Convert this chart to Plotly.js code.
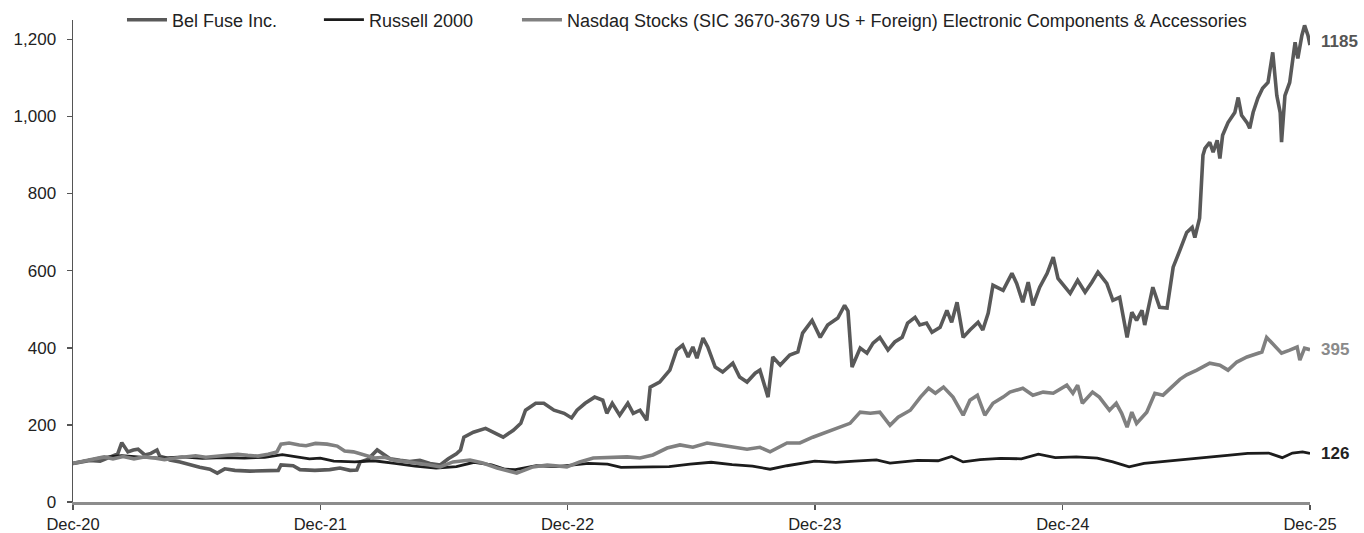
<!DOCTYPE html>
<html>
<head>
<meta charset="utf-8">
<script src="https://cdn.plot.ly/plotly-3.0.1.min.js"></script>
<style>html,body{margin:0;padding:0;background:#fff;}#chart{width:1364px;height:533px;}</style>
</head>
<body>
<div id="chart"></div>
<script>
const seriesNames = ["Bel Fuse Inc.", "Russell 2000", "Nasdaq Stocks (SIC 3670-3679 US + Foreign) Electronic Components & Accessories"];
const tickDates = ["2020-12-31","2021-12-31","2022-12-31","2023-12-31","2024-12-31","2025-12-31"];
const tickLabels = ["Dec-20","Dec-21","Dec-22","Dec-23","Dec-24","Dec-25"];
const yTicks = [0,200,400,600,800,1000,1200];

const belDates = ["2020-12-31","2021-01-10","2021-01-25","2021-02-09","2021-02-24","2021-03-07","2021-03-13","2021-03-22","2021-03-30","2021-04-06","2021-04-16","2021-04-25","2021-05-04","2021-05-08","2021-05-16","2021-05-23","2021-06-07","2021-06-22","2021-07-06","2021-07-21","2021-08-01","2021-08-12","2021-08-27","2021-09-18","2021-10-10","2021-10-30","2021-11-03","2021-11-21","2021-12-01","2021-12-23","2022-01-14","2022-01-29","2022-02-13","2022-02-23","2022-02-28","2022-03-11","2022-03-25","2022-04-03","2022-04-13","2022-04-28","2022-05-12","2022-05-27","2022-06-11","2022-06-26","2022-07-08","2022-07-20","2022-07-26","2022-07-31","2022-08-14","2022-09-01","2022-09-13","2022-09-27","2022-10-12","2022-10-23","2022-10-30","2022-11-14","2022-11-26","2022-12-11","2022-12-26","2023-01-06","2023-01-14","2023-01-26","2023-02-09","2023-02-21","2023-02-27","2023-03-07","2023-03-18","2023-03-30","2023-04-07","2023-04-17","2023-04-27","2023-05-02","2023-05-16","2023-05-31","2023-06-10","2023-06-19","2023-06-27","2023-07-04","2023-07-10","2023-07-19","2023-07-26","2023-08-06","2023-08-17","2023-09-01","2023-09-11","2023-09-22","2023-10-04","2023-10-11","2023-10-23","2023-10-30","2023-11-10","2023-11-24","2023-12-06","2023-12-13","2023-12-27","2024-01-08","2024-01-19","2024-02-03","2024-02-13","2024-02-18","2024-02-24","2024-03-07","2024-03-17","2024-03-26","2024-04-05","2024-04-17","2024-04-27","2024-05-08","2024-05-16","2024-05-27","2024-06-03","2024-06-13","2024-06-21","2024-07-03","2024-07-13","2024-07-20","2024-07-28","2024-08-01","2024-08-06","2024-08-16","2024-08-28","2024-09-04","2024-09-12","2024-09-19","2024-10-04","2024-10-17","2024-10-24","2024-11-02","2024-11-10","2024-11-17","2024-11-27","2024-12-08","2024-12-17","2024-12-24","2025-01-11","2025-01-22","2025-02-02","2025-02-12","2025-02-21","2025-03-06","2025-03-15","2025-03-25","2025-04-05","2025-04-12","2025-04-19","2025-04-27","2025-05-01","2025-05-13","2025-05-23","2025-06-03","2025-06-12","2025-06-22","2025-07-02","2025-07-10","2025-07-14","2025-07-21","2025-07-26","2025-07-29","2025-08-05","2025-08-10","2025-08-16","2025-08-20","2025-08-24","2025-09-01","2025-09-11","2025-09-16","2025-09-21","2025-09-29","2025-10-03","2025-10-08","2025-10-15","2025-10-22","2025-10-30","2025-11-06","2025-11-12","2025-11-17","2025-11-19","2025-11-24","2025-12-01","2025-12-09","2025-12-13","2025-12-19","2025-12-23","2025-12-28","2025-12-31"];
const belValues = [100,104,108,106,118,125,154,130,135,137,122,126,135,119,115,109,104,96,90,85,75,86,82,80,80,82,96,94,84,82,84,88,82,83,104,110,135,125,112,108,105,108,100,96,112,125,135,168,181,191,181,168,186,204,238,256,256,238,230,218,238,256,272,264,230,256,225,256,230,238,212,298,311,342,394,407,376,402,373,425,402,350,337,360,324,311,334,342,272,376,355,381,389,438,471,427,459,477,510,495,350,399,386,412,427,394,415,427,464,479,459,464,440,453,497,466,518,471,427,446,466,446,490,562,549,593,567,518,570,510,557,593,635,580,541,575,544,570,596,567,523,531,427,492,471,497,459,557,505,503,609,653,699,712,686,736,899,917,933,907,938,891,951,984,1010,1049,1003,984,969,1010,1047,1073,1088,1166,1054,1010,933,1054,1088,1192,1150,1210,1236,1210,1185];

const russellDates = ["2020-12-31","2021-01-20","2021-02-10","2021-03-13","2021-04-10","2021-05-10","2021-06-10","2021-07-10","2021-08-10","2021-09-10","2021-10-10","2021-11-05","2021-11-25","2021-12-15","2021-12-31","2022-01-20","2022-02-20","2022-03-20","2022-04-20","2022-05-20","2022-06-20","2022-07-20","2022-08-15","2022-09-10","2022-09-30","2022-10-15","2022-11-15","2022-12-15","2023-01-31","2023-02-28","2023-03-20","2023-04-30","2023-05-30","2023-06-30","2023-07-31","2023-08-31","2023-09-30","2023-10-26","2023-11-20","2023-12-31","2024-01-31","2024-02-28","2024-03-31","2024-04-20","2024-05-31","2024-06-30","2024-07-20","2024-08-06","2024-08-31","2024-09-30","2024-10-31","2024-11-25","2024-12-20","2025-01-20","2025-02-20","2025-03-15","2025-04-08","2025-04-30","2025-05-31","2025-06-30","2025-07-31","2025-08-31","2025-09-30","2025-10-31","2025-11-20","2025-12-05","2025-12-20","2025-12-31"];
const russellValues = [100,108,115,120,116,114,117,113,115,114,116,123,118,112,114,106,104,107,100,93,88,92,103,96,85,84,94,92,100,98,90,91,92,98,103,97,93,85,94,106,103,106,109,101,108,107,118,104,110,113,112,124,115,117,114,104,91,100,106,110,116,121,126,127,115,127,130,126];

const nasdaqDates = ["2020-12-31","2021-01-15","2021-01-31","2021-02-15","2021-02-28","2021-03-15","2021-03-31","2021-04-15","2021-04-30","2021-05-15","2021-05-31","2021-06-15","2021-06-30","2021-07-15","2021-07-31","2021-08-15","2021-08-31","2021-09-15","2021-09-30","2021-10-15","2021-10-28","2021-11-03","2021-11-15","2021-11-30","2021-12-10","2021-12-24","2022-01-10","2022-01-25","2022-02-05","2022-02-18","2022-03-05","2022-03-21","2022-04-05","2022-04-20","2022-05-09","2022-05-25","2022-06-10","2022-06-26","2022-07-15","2022-08-09","2022-08-28","2022-09-18","2022-10-11","2022-10-17","2022-11-10","2022-12-01","2022-12-30","2023-01-18","2023-02-07","2023-03-08","2023-03-29","2023-04-17","2023-05-06","2023-05-27","2023-06-15","2023-07-04","2023-07-25","2023-08-13","2023-09-01","2023-09-22","2023-10-11","2023-10-26","2023-11-20","2023-12-09","2023-12-28","2024-01-18","2024-02-06","2024-02-21","2024-03-07","2024-03-22","2024-04-05","2024-04-20","2024-05-02","2024-05-20","2024-06-04","2024-06-16","2024-06-26","2024-07-08","2024-07-22","2024-08-06","2024-08-16","2024-08-27","2024-09-07","2024-09-19","2024-10-04","2024-10-14","2024-11-02","2024-11-17","2024-12-02","2024-12-17","2025-01-06","2025-01-15","2025-01-22","2025-01-29","2025-02-13","2025-02-23","2025-03-10","2025-03-20","2025-03-28","2025-04-05","2025-04-12","2025-04-19","2025-05-04","2025-05-16","2025-05-28","2025-06-10","2025-06-22","2025-07-02","2025-07-17","2025-08-05","2025-08-20","2025-09-01","2025-09-14","2025-09-29","2025-10-14","2025-10-21","2025-10-28","2025-11-05","2025-11-19","2025-12-01","2025-12-12","2025-12-16","2025-12-23","2025-12-31"];
const nasdaqValues = [100,105,110,117,112,118,112,117,114,110,114,117,120,116,119,122,124,121,119,124,130,150,153,148,146,152,150,145,132,130,122,114,116,108,104,101,96,91,104,109,101,88,78,75,91,96,91,104,114,117,117,114,122,140,148,142,153,148,142,137,142,130,153,153,168,181,194,204,233,230,233,199,220,238,272,295,282,298,272,225,264,277,225,256,272,285,295,277,285,282,303,282,303,256,285,272,238,256,230,194,233,204,233,282,277,300,318,330,342,360,355,342,363,376,386,389,427,412,386,394,402,368,399,395];

const colors = ["#595959", "#1c1c1c", "#808080"];
const widths = [3.6, 2.8, 3.6];
const labelColors = ["#555555", "#222222", "#8a8a8a"];
const legendIds = ["legend", "legend2", "legend3"];
const legendX = [0.0396, 0.1988, 0.3589];

const xs = [belDates, russellDates, nasdaqDates];
const ys = [belValues, russellValues, nasdaqValues];

const traces = seriesNames.map((n, i) => ({
  type: "scatter", mode: "lines", name: n,
  x: xs[i], y: ys[i], legend: legendIds[i],
  line: {color: colors[i], width: widths[i], shape: "linear"},
  hoverinfo: "skip"
}));

const annotations = seriesNames.map((n, i) => {
  const last = ys[i].length - 1;
  return {
    x: xs[i][last], y: ys[i][last], xref: "x", yref: "y",
    text: "<b>" + ys[i][last] + "</b>", showarrow: false,
    xanchor: "left", yanchor: "middle", xshift: 9, yshift: i === 0 ? 4 : 0,
    font: {family: "Liberation Sans, Arial, sans-serif", size: 17, color: labelColors[i]}
  };
});

const plotTop = 0.96016;
const legendBase = {
  orientation: "h", xanchor: "left", y: plotTop, yanchor: "middle",
  bgcolor: "rgba(0,0,0,0)", font: {size: 18, color: "#222"}, itemwidth: 40
};

const layout = {
  width: 1364, height: 533,
  margin: {l: 73, r: 54, t: 0, b: 31},
  paper_bgcolor: "#ffffff", plot_bgcolor: "#ffffff",
  font: {family: "Liberation Sans, Arial, sans-serif", size: 16.5, color: "#222"},
  showlegend: true,
  legend: Object.assign({}, legendBase, {x: legendX[0]}),
  legend2: Object.assign({}, legendBase, {x: legendX[1]}),
  legend3: Object.assign({}, legendBase, {x: legendX[2]}),
  xaxis: {
    type: "date", range: ["2020-12-31", "2025-12-31"],
    tickvals: tickDates, ticktext: tickLabels,
    showgrid: false, zeroline: false,
    showline: true, linecolor: "#8c8c8c", linewidth: 2.5,
    ticks: "outside", ticklen: 5, tickcolor: "#555", tickwidth: 1.5,
    tickfont: {size: 16.5, color: "#222"}, ticklabelstandoff: 1
  },
  yaxis: {
    domain: [0, plotTop],
    range: [0, 1250], tickvals: yTicks, tickformat: ",",
    showgrid: false, zeroline: false,
    showline: true, linecolor: "#555", linewidth: 1.5,
    ticks: "outside", ticklen: 5, tickcolor: "#555", tickwidth: 1.5,
    tickfont: {size: 17, color: "#222"}, ticklabelstandoff: 7
  },
  annotations: annotations
};

Plotly.newPlot("chart", traces, layout, {displayModeBar: false, staticPlot: true});
</script>
</body>
</html>
